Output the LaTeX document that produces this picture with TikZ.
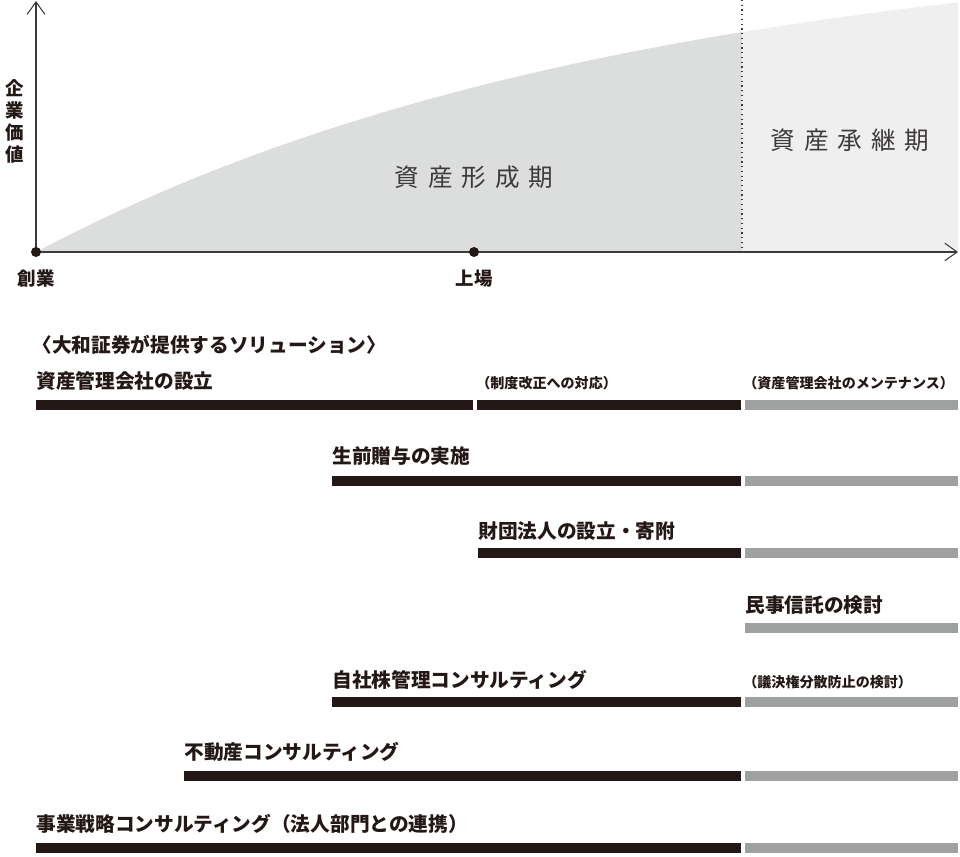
\documentclass[tikz,border=0pt]{standalone}
\usepackage{fontspec}
\newfontfamily\jpfont{Noto Sans CJK JP}
\usetikzlibrary{arrows.meta,positioning}
\definecolor{dwink}{HTML}{231815}
\definecolor{dwaxis}{HTML}{3E3A39}
\definecolor{dwbar}{HTML}{9FA0A0}
\definecolor{dwform}{HTML}{DCDDDD}
\definecolor{dwkeep}{HTML}{EFEFEF}
\tikzset{
  lbl/.style={anchor=base west, inner sep=0pt, text=dwink,
    font=\jpfont\bfseries\fontsize{11.2}{12}\selectfont},
  note/.style={lbl, font=\jpfont\bfseries\fontsize{8}{9}\selectfont},
  phase/.style={inner sep=0pt, text=dwaxis, font=\jpfont\fontsize{14}{15}\selectfont},
  axis/.style={draw=dwaxis, line width=0.6pt, -{Straight Barb[length=7pt,width=10pt]}},
  dot/.style={circle, fill=dwink, inner sep=0pt, minimum size=0.2cm},
  blackbar/.style={fill=dwink},
  graybar/.style={fill=dwbar},
}

\begin{document}
\begin{tikzpicture}[x=0.02cm, y=-0.02cm]
  \useasboundingbox (0,0) rectangle (960,857);
  % growth area
  \fill[dwform] (36,252) -- plot[domain=36:742, samples=50]
    (\x, {252-318*(1-exp(-(\x-36)/600))}) -- (742,252) -- cycle;
  \fill[dwkeep] (742,252) -- plot[domain=742:958, samples=20]
    (\x, {252-318*(1-exp(-(\x-36)/600))}) -- (958,252) -- cycle;
  \draw[dwaxis, dotted, line width=0.7pt] (742,0) -- (742,252);
  % axes
  \coordinate (o) at (36,252);
  \coordinate (xend) at (958,252);
  \coordinate (yend) at (36,1);
  \draw[axis] (o) -- (xend);
  \draw[axis] (o) -- (yend);
  \node[dot] (start) at (o) {};
  \node[dot] (ipo) at (474,252) {};
  \node[inner sep=0pt, align=center, text=dwink,
        font=\jpfont\bfseries\fontsize{10.5}{12.5}\selectfont] (yl) at (15,121) {企\\業\\価\\値};
  \node[inner sep=0pt, text=dwink, font=\jpfont\bfseries\fontsize{10.5}{12}\selectfont,
        below=0.25cm of start] (sl) {創業};
  \node[inner sep=0pt, text=dwink, font=\jpfont\bfseries\fontsize{10.5}{12}\selectfont,
        below=0.25cm of ipo] (il) {上場};
  \node[phase] (form) at (474,177) {資\hspace{5pt}産\hspace{5pt}形\hspace{5pt}成\hspace{5pt}期};
  \node[phase] (keep) at (850,140) {資\hspace{5pt}産\hspace{5pt}承\hspace{5pt}継\hspace{5pt}期};
  % solutions
  \node[lbl] (title) at (32,353) {〈大和証券が提供するソリューション〉};
  \node[lbl] (r1) at (36,389) {資産管理会社の設立};
  \node[note] (r1a) at (476,389) {（制度改正への対応）};
  \node[note] (r1b) at (743,389) {（資産管理会社のメンテナンス）};
  \node[lbl] (r2) at (332,464) {生前贈与の実施};
  \node[lbl] (r3) at (478,539) {財団法人の設立・寄附};
  \node[lbl] (r4) at (745,613) {民事信託の検討};
  \node[lbl] (r5) at (332,687) {自社株管理コンサルティング};
  \node[note] (r5a) at (743,687) {（議決権分散防止の検討）};
  \node[lbl] (r6) at (184,759) {不動産コンサルティング};
  \node[lbl] (r7) at (36,831) {事業戦略コンサルティング（法人部門との連携）};
  \fill[blackbar] (36,400) rectangle (473,410);
  \fill[blackbar] (477,400) rectangle (741,410);
  \foreach \xs/\yb in {332/476, 478/548, 332/697, 184/771, 36/843}
    \fill[blackbar] (\xs,\yb) rectangle (741,\yb+10);
  \foreach \yb in {400,476,548,623,697,771,843}
    \fill[graybar] (745,\yb) rectangle (958,\yb+10);
\end{tikzpicture}
\end{document}
